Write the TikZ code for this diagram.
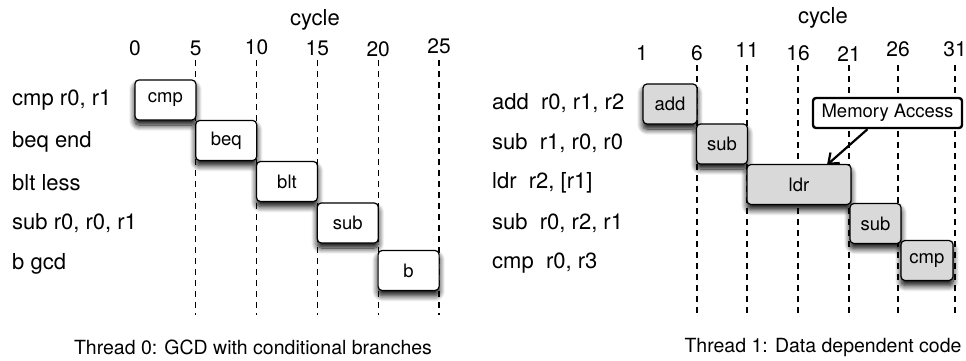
\documentclass[tikz,border=0pt]{standalone}
\usepackage{fontspec}
\setmainfont{TeX Gyre Heros}
\usetikzlibrary{shadows.blur,arrows.meta}
\tikzset{
  instr/.style={anchor=west, inner sep=0pt, font=\fontsize{22}{26}\selectfont},
  tick/.style={font=\fontsize{21}{25}\selectfont},
  caption/.style={font=\fontsize{19.5}{23}\selectfont},
  grid/.style={dash pattern=on 6pt off 5pt, line width=1.2pt},
  op/.style={draw, line width=1.2pt, rounded corners=4pt, fill=white,
    inner sep=0pt, minimum height=40pt, font=\fontsize{18.5}{22}\selectfont,
    blur shadow={shadow xshift=0pt, shadow yshift=-5pt,
      shadow blur radius=6pt, shadow blur steps=10, shadow opacity=100}},
  opgray/.style={op, fill=black!15},
  callout/.style={draw, line width=2.4pt, rounded corners=3pt, fill=white,
    minimum width=149pt, minimum height=30pt, inner sep=0pt,
    font=\fontsize{18.5}{22}\selectfont},
}
\begin{document}
\begin{tikzpicture}[x=1pt, y=-1pt]
    \useasboundingbox (0,0) rectangle (966,360);
    \def\dx{60.8}
    % thread 0
    \node[font=\fontsize{22}{26}\selectfont] (C0) at (315,20) {cycle};
    \foreach \t/\yy [count=\k from 0] in {0/48,5/48,10/47,15/48,20/49,25/46} {
      \node[tick] (T0_\k) at (135+\k*\dx, \yy) {\t};
    }
    \foreach \k in {1,...,5} {
      \draw[grid] (135+\k*\dx, 60) -- (135+\k*\dx, 315);
    }
    \node[instr] (A0_0) at (12,100) {cmp r0, r1};
    \node[instr] (A0_1) at (12,142) {beq end};
    \node[instr] (A0_2) at (12,183) {blt less};
    \node[instr] (A0_3) at (12,223) {sub r0, r0, r1};
    \node[instr] (A0_4) at (12,264) {b gcd};
    \node[op, minimum width=61pt] (B0_0) at (165.4,100) {cmp};
    \node[op, minimum width=61pt] (B0_1) at (226.2,140.5) {beq};
    \node[op, minimum width=61pt] (B0_2) at (287,181.5) {blt};
    \node[op, minimum width=61pt] (B0_3) at (347.8,223) {sub};
    \node[op, minimum width=61pt] (B0_4) at (408.6,270.5) {b};
    \node[caption] (D0) at (253,347) {Thread 0: GCD with conditional branches};
    % thread 1
    \node[font=\fontsize{22}{26}\selectfont] (C1) at (823,18) {cycle};
    \foreach \t/\xx/\yy [count=\k from 0] in {1/642/53,6/697/53,11/747/50,16/798/53,21/849/54,26/898/49,31/955/49} {
      \node[tick] (T1_\k) at (\xx, \yy) {\t};
    }
    \foreach \xx in {697,747,798,849,898,955} {
      \draw[grid] (\xx, 65) -- (\xx, 317);
    }
    \node[instr] (A1_0) at (492,103) {add\ \ r0, r1, r2};
    \node[instr] (A1_1) at (492,143) {sub\ \ r1, r0, r0};
    \node[instr] (A1_2) at (492,183) {ldr\ \ r2, [r1]};
    \node[instr] (A1_3) at (492,223) {sub\ \ r0, r2, r1};
    \node[instr] (A1_4) at (492,263) {cmp\ \ r0, r3};
    \node[opgray, minimum width=54pt] (B1_0) at (670,104) {add};
    \node[opgray, minimum width=51pt] (B1_1) at (722,144) {sub};
    \node[opgray, minimum width=104pt] (B1_2) at (799,184.5) {ldr};
    \node[opgray, minimum width=51pt] (B1_3) at (875.5,223.5) {sub};
    \node[opgray, minimum width=52pt] (B1_4) at (927,260.5) {cmp};
    \node[callout] (M) at (887.5,113) {Memory Access};
    \draw[line width=2.2pt, -{Straight Barb[length=9pt,width=14pt]}]
      ([xshift=-20pt]M.south) -- ([xshift=28pt,yshift=-1pt]B1_2.north);
    \node[caption] (D1) at (823,348) {Thread 1: Data dependent code};
  \end{tikzpicture}
\end{document}
